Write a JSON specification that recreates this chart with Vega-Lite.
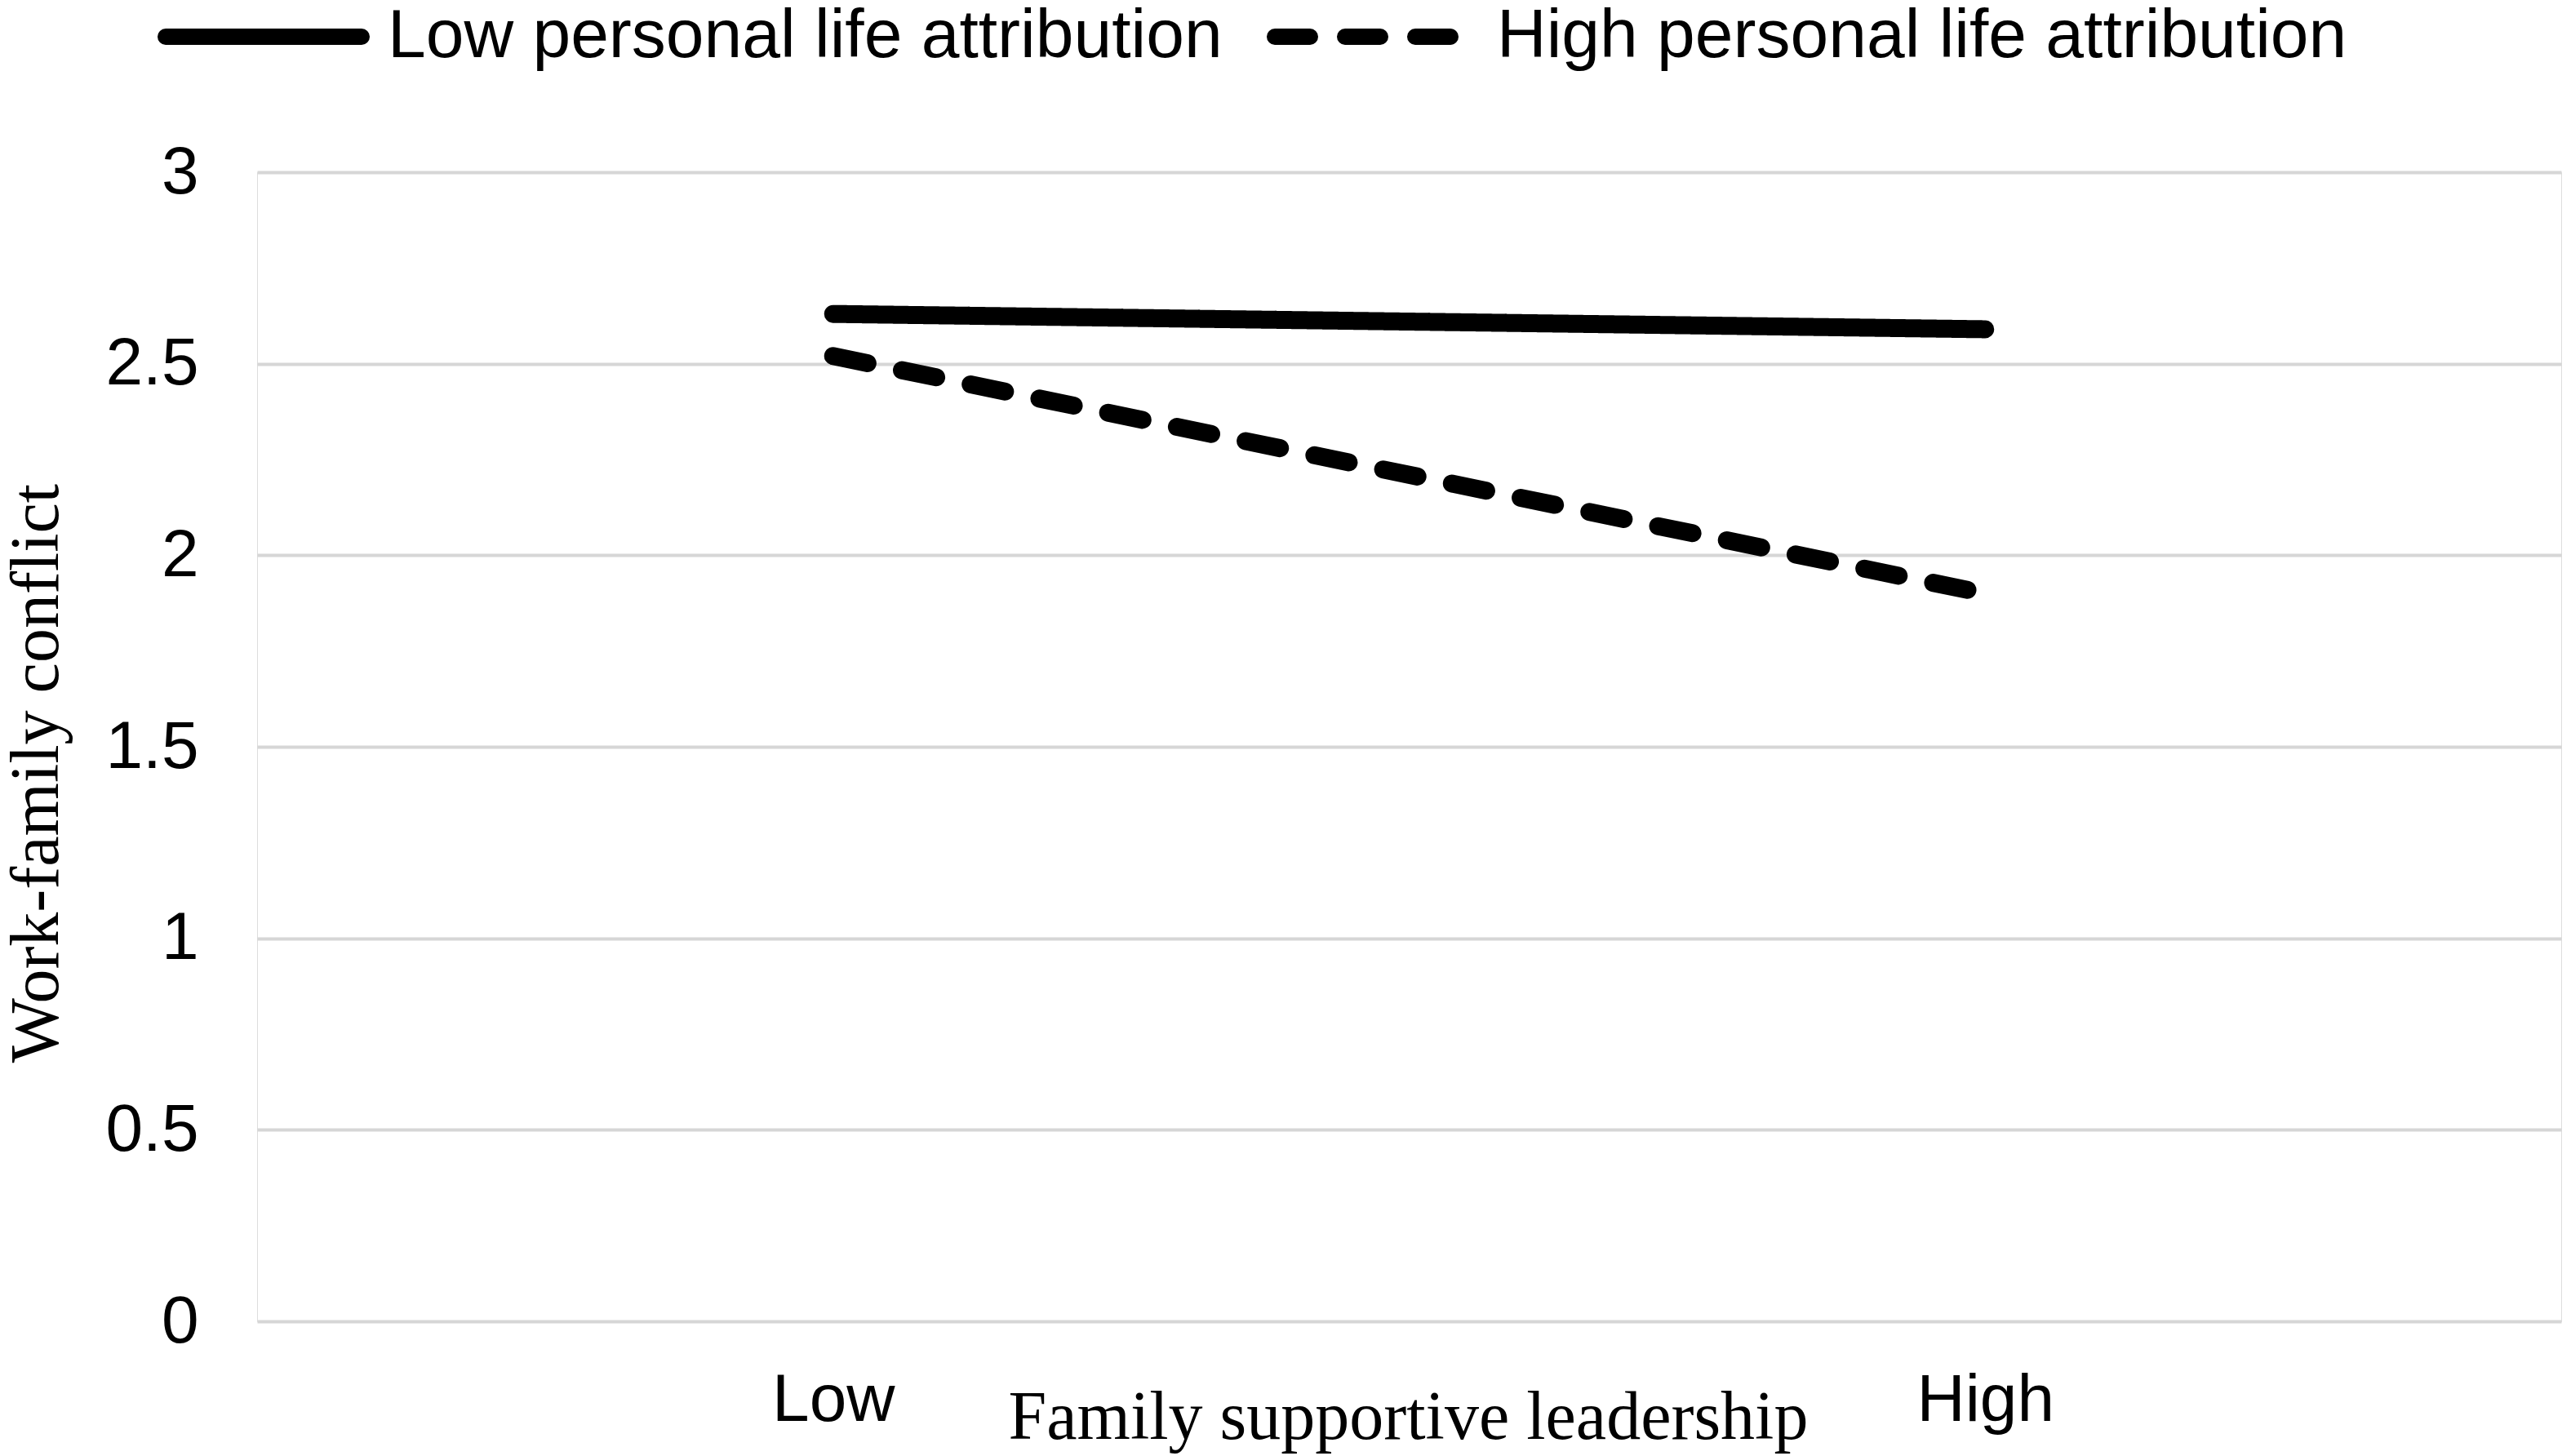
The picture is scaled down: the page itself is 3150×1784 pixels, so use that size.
{
  "$schema": "https://vega.github.io/schema/vega-lite/v6.json",
  "description": "Interaction plot: work-family conflict by family supportive leadership",
  "background": "white",
  "autosize": {"type": "none"},
  "padding": {"left": 315, "top": 211, "right": 12, "bottom": 165},
  "width": 2823,
  "height": 1408,
  "data": {
    "values": [
      {"fsl": "Low", "group": "Low personal life attribution", "wfc": 2.63},
      {"fsl": "High", "group": "Low personal life attribution", "wfc": 2.59},
      {"fsl": "Low", "group": "High personal life attribution", "wfc": 2.52},
      {"fsl": "High", "group": "High personal life attribution", "wfc": 1.9}
    ]
  },
  "mark": {"type": "line", "color": "black", "strokeWidth": 22, "strokeCap": "round"},
  "encoding": {
    "x": {
      "field": "fsl",
      "type": "nominal",
      "sort": ["Low", "High"],
      "scale": {"type": "point", "padding": 0.5},
      "axis": {
        "title": "Family supportive leadership",
        "titleFont": "Liberation Serif",
        "titleFontSize": 84,
        "titleFontWeight": "normal",
        "titleColor": "black",
        "titleBaseline": "alphabetic",
        "titleY": 143,
        "titleX": 1410,
        "titleAlign": "center",
        "labelAngle": 0,
        "labelFont": "Liberation Sans",
        "labelFontSize": 82,
        "labelColor": "black",
        "labelPadding": 56,
        "ticks": false,
        "domain": false,
        "grid": false
      }
    },
    "y": {
      "field": "wfc",
      "type": "quantitative",
      "scale": {"domain": [0, 3], "nice": false, "zero": true},
      "axis": {
        "values": [0, 0.5, 1, 1.5, 2, 2.5, 3],
        "format": "~g",
        "title": "Work-family conflict",
        "titleFont": "Liberation Serif",
        "titleFontSize": 84,
        "titleFontWeight": "normal",
        "titleColor": "black",
        "titleAngle": -90,
        "titleBaseline": "alphabetic",
        "titleAlign": "center",
        "titleX": -245,
        "titleY": 736,
        "labelFont": "Liberation Sans",
        "labelFontSize": 82,
        "labelColor": "black",
        "labelPadding": 72,
        "ticks": false,
        "domain": false,
        "grid": true,
        "gridColor": "#d6d6d6",
        "gridWidth": 4
      }
    },
    "strokeDash": {
      "field": "group",
      "type": "nominal",
      "scale": {
        "domain": ["Low personal life attribution", "High personal life attribution"],
        "range": [[1, 0], [43, 43]]
      },
      "legend": {
        "title": null,
        "orient": "none",
        "legendX": -122,
        "legendY": -296,
        "direction": "horizontal",
        "symbolType": "stroke",
        "symbolSize": 57600,
        "symbolStrokeWidth": 20,
        "symbolStrokeColor": "black",
        "labelFont": "Liberation Sans",
        "labelFontSize": 84,
        "labelColor": "black",
        "labelOffset": 22,
        "labelLimit": 2000,
        "columnPadding": 24,
        "encode": {"symbols": {"update": {"strokeCap": {"value": "round"}}}}
      }
    },
    "order": {"field": "fsl", "sort": "descending"}
  }
}
